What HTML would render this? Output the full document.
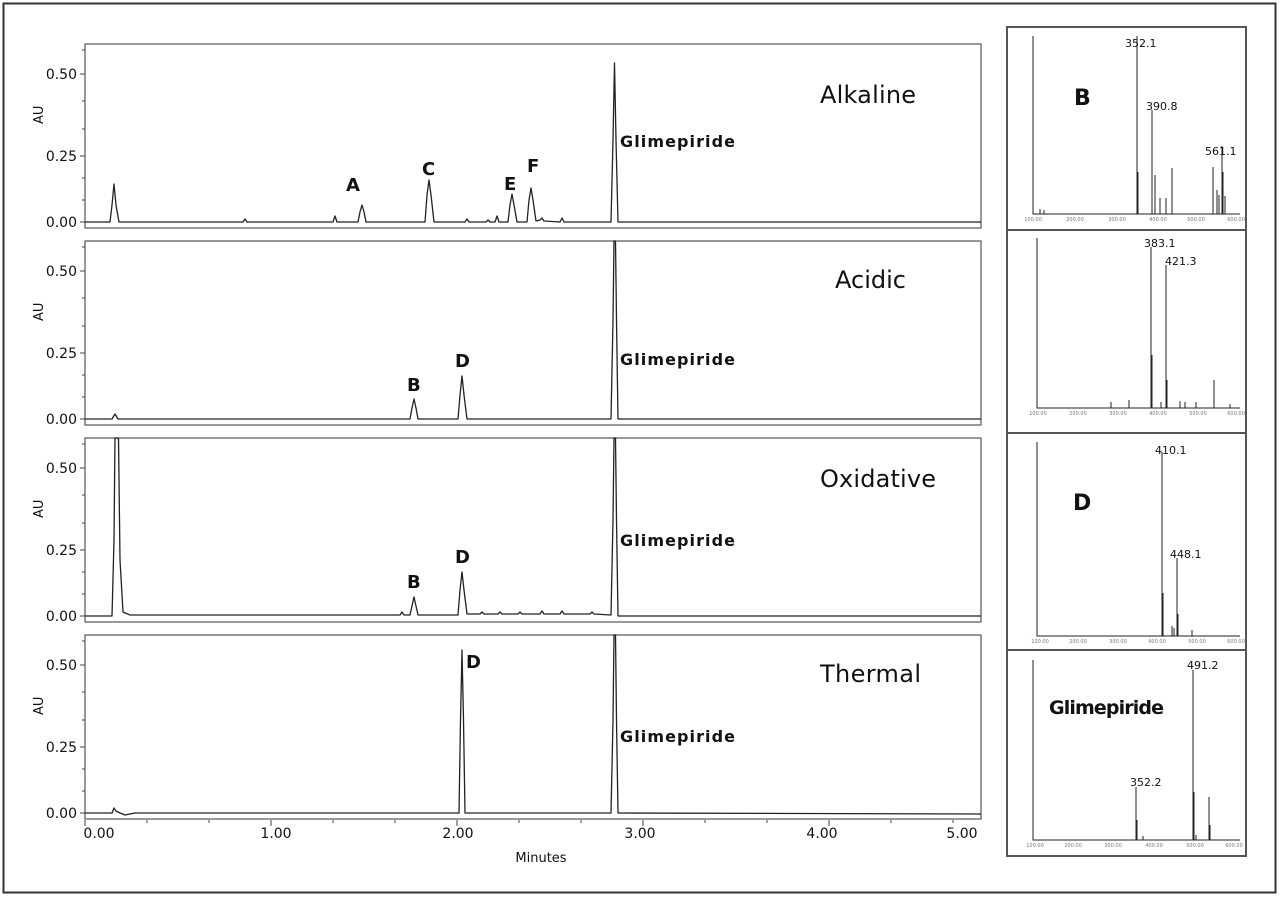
<!DOCTYPE html>
<html><head><meta charset="utf-8"><style>
html,body{margin:0;padding:0;background:#fff}
svg{display:block}
text{font-family:"DejaVu Sans","Liberation Sans",sans-serif;fill:#111}
.b{font-weight:bold}
</style></head><body>
<svg width="1280" height="898" viewBox="0 0 1280 898" xmlns="http://www.w3.org/2000/svg">
<rect x="3.5" y="3.5" width="1272" height="889" fill="#fff" stroke="#333" stroke-width="2"/>

<g fill="none" stroke="#555" stroke-width="1.2">
<rect x="85" y="44" width="896" height="184"/>
<rect x="85" y="241" width="896" height="184"/>
<rect x="85" y="438" width="896" height="184"/>
<rect x="85" y="635" width="896" height="184"/>
</g>

<g stroke="#444" stroke-width="1">
<path d="M80,222H85M80,156H85M80,74H85M82,200H85M82,178H85M82,129H85M82,101H85M82,50H85"/>
<path d="M80,419H85M80,353H85M80,271H85M82,397H85M82,375H85M82,326H85M82,298H85M82,247H85"/>
<path d="M80,616H85M80,550H85M80,468H85M82,594H85M82,572H85M82,523H85M82,495H85M82,444H85"/>
<path d="M80,813H85M80,747H85M80,665H85M82,791H85M82,769H85M82,720H85M82,692H85M82,641H85"/>
</g>
<g font-size="14" text-anchor="end">
<text x="77" y="227">0.00</text><text x="77" y="161">0.25</text><text x="77" y="79">0.50</text>
<text x="77" y="424">0.00</text><text x="77" y="358">0.25</text><text x="77" y="276">0.50</text>
<text x="77" y="621">0.00</text><text x="77" y="555">0.25</text><text x="77" y="473">0.50</text>
<text x="77" y="818">0.00</text><text x="77" y="752">0.25</text><text x="77" y="670">0.50</text>
</g>
<g font-size="13">
<text transform="translate(43,124) rotate(-90)">AU</text>
<text transform="translate(43,321) rotate(-90)">AU</text>
<text transform="translate(43,518) rotate(-90)">AU</text>
<text transform="translate(43,715) rotate(-90)">AU</text>
</g>

<g stroke="#444" stroke-width="1">
<path d="M85,820v6M271,820v6M457,820v6M643,820v6M829,820v6M147,820v3M209,820v3M333,820v3M395,820v3M519,820v3M581,820v3M705,820v3M767,820v3M891,820v3M953,820v3"/>
</g>
<g font-size="14" text-anchor="middle">
<text x="99" y="838">0.00</text><text x="276" y="838">1.00</text><text x="458" y="838">2.00</text>
<text x="640" y="838">3.00</text><text x="822" y="838">4.00</text><text x="962" y="838">5.00</text>
</g>
<text x="541" y="862" font-size="13" text-anchor="middle">Minutes</text>

<g fill="none" stroke="#222" stroke-width="1.3" stroke-linejoin="round">
<path d="M85,222 L110,222 L112,205 L114,184 L116,205 L119,222 L243,222 L245,219 L247,222 L333,222 L335,216 L337,222 L358,222 L360,212 L362,205 L364,212 L366,222 L425,222 L427,195 L429,180 L431,195 L434,222 L465,222 L467,219 L469,222 L486,222 L488,220 L490,222 L495,222 L497,216 L499,222 L508,222 L510,205 L512,194 L514,205 L517,222 L527,222 L529,200 L531,188 L533,200 L536,221 L540,220 L542,218 L544,221 L560,222 L562,218 L564,222 L611,222 L613,140 L614.5,63 L616,140 L618,222 L981,222"/>
<path d="M85,419 L112,419 L115,414 L118,419 L410,419 L412,408 L414,399 L416,408 L418,419 L458,419 L460,395 L462,376 L464,395 L467,419 L611,419 L613,320 L614,241 L615.5,241 L616.5,320 L618,419 L981,419"/>
<path d="M85,616 L112,616 L114,540 L115,438 L118.5,438 L120,560 L123,612 L130,615 L400,615 L402,612 L404,615 L410,615 L412,606 L414,597 L416,606 L418,615 L458,615 L460,590 L462,572 L464,590 L467,614 L480,614 L482,612 L484,614 L498,614 L500,612 L502,614 L518,614 L520,612 L522,614 L540,614 L542,611 L544,614 L560,614 L562,611 L564,614 L590,614 L592,612 L594,614 L611,615 L613,520 L614,438 L615.5,438 L616.5,520 L618,616 L981,616"/>
<path d="M85,813 L112,813 L114,808 L116,811 L120,813 L125,815 L130,814 L135,813 L459,813 L460.5,720 L462,650 L463.5,720 L465,813 L611,813 L613,720 L614,635 L615.5,635 L616.5,720 L618,813 L981,814"/>
</g>

<g class="b" font-size="18">
<text x="346" y="191">A</text><text x="422" y="175">C</text><text x="504" y="190">E</text><text x="527" y="172">F</text>
<text x="407" y="391">B</text><text x="455" y="367">D</text>
<text x="407" y="588">B</text><text x="455" y="563">D</text>
<text x="466" y="668">D</text>
</g>
<g class="b" font-size="16">
<text x="620" y="147" textLength="115">Glimepiride</text>
<text x="620" y="365" textLength="115">Glimepiride</text>
<text x="620" y="546" textLength="115">Glimepiride</text>
<text x="620" y="742" textLength="115">Glimepiride</text>
</g>
<g font-size="24">
<text x="820" y="103" textLength="96">Alkaline</text>
<text x="835" y="288" textLength="71">Acidic</text>
<text x="820" y="487" textLength="116">Oxidative</text>
<text x="820" y="682" textLength="101">Thermal</text>
</g>

<rect x="1007" y="27" width="239" height="829" fill="#fff" stroke="#555" stroke-width="2"/>
<path d="M1007,230H1246M1007,433H1246M1007,650H1246" stroke="#555" stroke-width="2"/>

<g stroke="#222" stroke-width="1" fill="none">
<path d="M1033,36V214H1240"/>
<path d="M1137,214V36M1138,214V172M1152,214V110M1155,214V175M1160,214V198M1166,214V198M1172,214V168M1213,214V167M1217,214V190M1219,214V195M1222,214V146M1223,214V172M1225,214V196M1040,214V209M1044,214V210"/>
<path d="M1037,238V408H1240"/>
<path d="M1151,408V247M1152,408V355M1166,408V265M1167,408V380M1111,408V402M1129,408V400M1161,408V402M1180,408V401M1185,408V402M1196,408V402M1214,408V380M1230,408V404"/>
<path d="M1037,442V636H1240"/>
<path d="M1162,636V452M1163,636V593M1177,636V558M1178,636V614M1172,636V626M1174,636V628M1192,636V630"/>
<path d="M1033,660V840H1240"/>
<path d="M1136,840V787M1137,840V820M1193,840V670M1194,840V792M1209,840V797M1210,840V825M1143,840V836M1196,840V835"/>
</g>
<g font-size="5" text-anchor="middle">
<text x="1033" y="221" style="fill:#777">100.00</text><text x="1075" y="221" style="fill:#777">200.00</text><text x="1117" y="221" style="fill:#777">300.00</text><text x="1158" y="221" style="fill:#777">400.00</text><text x="1196" y="221" style="fill:#777">500.00</text><text x="1236" y="221" style="fill:#777">600.00</text>
<text x="1038" y="415" style="fill:#777">100.00</text><text x="1078" y="415" style="fill:#777">200.00</text><text x="1118" y="415" style="fill:#777">300.00</text><text x="1158" y="415" style="fill:#777">400.00</text><text x="1198" y="415" style="fill:#777">500.00</text><text x="1236" y="415" style="fill:#777">600.00</text>
<text x="1040" y="643" style="fill:#777">100.00</text><text x="1078" y="643" style="fill:#777">200.00</text><text x="1118" y="643" style="fill:#777">300.00</text><text x="1157" y="643" style="fill:#777">400.00</text><text x="1197" y="643" style="fill:#777">500.00</text><text x="1236" y="643" style="fill:#777">600.00</text>
<text x="1035" y="847" style="fill:#777">100.00</text><text x="1073" y="847" style="fill:#777">200.00</text><text x="1113" y="847" style="fill:#777">300.00</text><text x="1154" y="847" style="fill:#777">400.00</text><text x="1195" y="847" style="fill:#777">500.00</text><text x="1234" y="847" style="fill:#777">600.00</text>
</g>
<g font-size="11">
<text x="1125" y="47">352.1</text><text x="1146" y="110">390.8</text><text x="1205" y="155">561.1</text>
<text x="1144" y="247">383.1</text><text x="1165" y="265">421.3</text>
<text x="1155" y="454">410.1</text><text x="1170" y="558">448.1</text>
<text x="1187" y="669">491.2</text><text x="1130" y="786">352.2</text>
</g>
<g class="b">
<text x="1074" y="105" font-size="22">B</text>
<text x="1073" y="510" font-size="22">D</text>
<text x="1049" y="714" font-size="19" textLength="115">Glimepiride</text>
</g>
</svg>
</body></html>
